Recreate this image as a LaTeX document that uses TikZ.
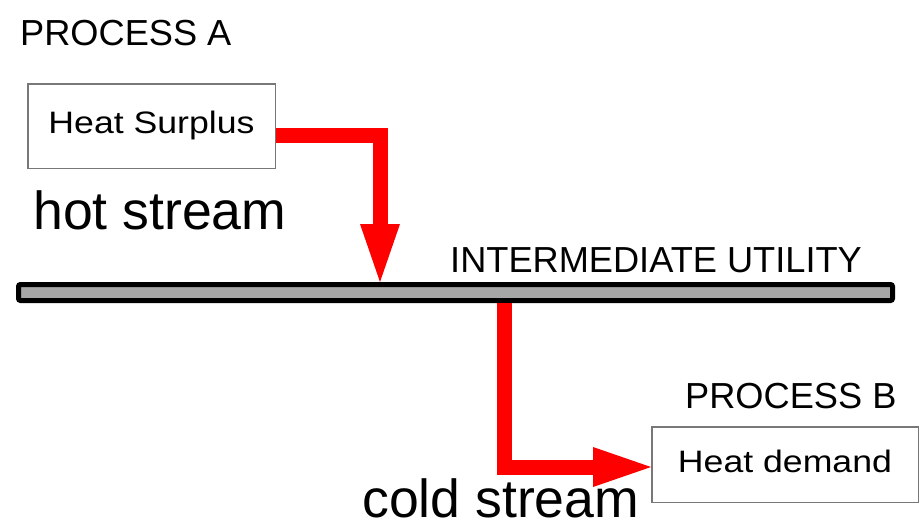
\documentclass[tikz,border=0pt]{standalone}
\usepackage{fontspec}
\setmainfont{Liberation Sans}
\newfontfamily\boxfont[FakeStretch=1.15]{Liberation Sans}
\usetikzlibrary{arrows.meta}
\definecolor{flowred}{RGB}{255,0,0}
\definecolor{utilgray}{RGB}{166,166,166}
\definecolor{boxedge}{RGB}{120,120,120}
\tikzset{
  procbox/.style={draw=boxedge, line width=1.5pt, fill=white, inner sep=0pt,
    font=\boxfont\fontsize{31}{36}\selectfont, text height=22pt, text depth=6.5pt},
  midlabel/.style={anchor=base west, inner sep=0pt, font=\fontsize{36.2}{42}\selectfont},
  biglabel/.style={anchor=base west, inner sep=0pt, font=\fontsize{53.6}{62}\selectfont},
  flow/.style={draw=flowred, line width=15pt, line join=miter, line cap=butt,
    -{Triangle[length=58pt 0 0, width=40pt 0 0, line width=0pt]}},
  utility/.style={draw=black, fill=utilgray, line width=5pt, rounded corners=2pt, inner sep=0pt}
}
\begin{document}
\begin{tikzpicture}[x=1pt,y=-1pt]
\useasboundingbox (0,0) rectangle (924,523);

% process A with its heat surplus
\node[midlabel] (procA) at (20,45) {PROCESS A};
\node[procbox, minimum width=247.5pt, minimum height=84.5pt] (A) at (151.5,126) {Heat Surplus};
\node[biglabel] (hot) at (33,229) {hot stream};

% intermediate utility bar
\node[utility, minimum width=874pt, minimum height=16pt] (bar) at (455.5,292.5) {};
\node[midlabel] (util) at (450,272) {INTERMEDIATE UTILITY};

% process B with its heat demand
\node[midlabel] (procB) at (685,408) {PROCESS B};
\node[procbox, minimum width=266.5pt, minimum height=75.5pt] (B) at (785,464.5) {Heat demand};

% heat flows
\coordinate (hotx) at (380,0);
\coordinate (coldx) at (504,0);
\draw[flow] ([yshift=-9pt]A.east) -| (hotx |- bar.north);
\draw[flow] (coldx |- bar.south) |- ([yshift=-2.5pt]B.west);

\node[biglabel] (cold) at (362,517) {cold stream};
\end{tikzpicture}
\end{document}
